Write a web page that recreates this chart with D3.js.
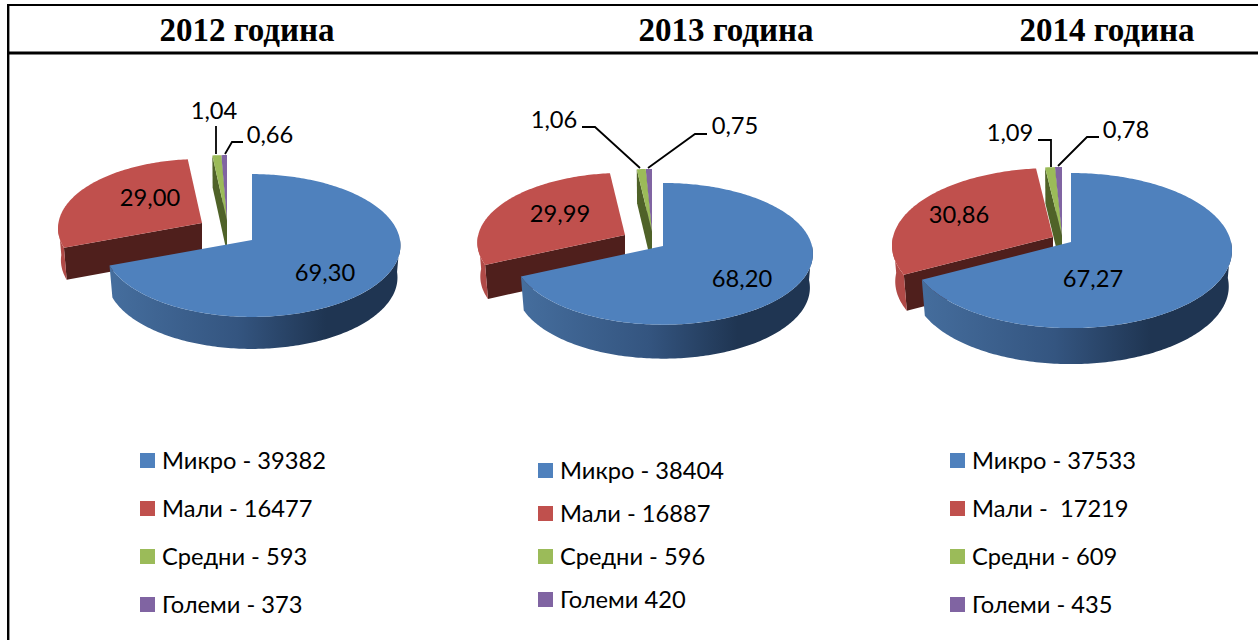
<!DOCTYPE html>
<html>
<head>
<meta charset="utf-8">
<script src="https://cdn.jsdelivr.net/npm/d3@7"></script>
<style>
  body { margin: 0; background: #fff; }
  text { fill: #000; }
  .title { font-family: "Liberation Serif", serif; font-weight: bold; font-size: 33px; }
  .lbl { font-family: Lato, "Noto Sans", sans-serif; font-size: 23.7px; }
</style>
</head>
<body>
<div id="chart"></div>
<script>
const years = ['2012 година', '2013 година', '2014 година']
const shares2012 = [69.30, 29.00, 1.04, 0.66]
const shares2013 = [68.20, 29.99, 1.06, 0.75]
const shares2014 = [67.27, 30.86, 1.09, 0.78]
const shareText2012 = ['69,30', '29,00', '1,04', '0,66']
const shareText2013 = ['68,20', '29,99', '1,06', '0,75']
const shareText2014 = ['67,27', '30,86', '1,09', '0,78']
const legend2012 = ['Микро - 39382', 'Мали - 16477', 'Средни - 593', 'Големи - 373']
const legend2013 = ['Микро - 38404', 'Мали - 16887', 'Средни - 596', 'Големи 420']
const legend2014 = ['Микро - 37533', 'Мали -  17219', 'Средни - 609', 'Големи - 435']

const topColors = ['#4f81bd', '#c0504d', '#9bbb59', '#8064a2']
const faceColors = ['#1f3552', '#4f1f1c', '#4f6228', '#40315a']
const wallColors = [null, '#b04a47', '#7f9a48', '#6a5288']

// layout of each pie: centre, radii, perspective, depth, then slice offsets, label spots
const layouts = [
  {
    titleX: 247, cx: 252, cy: 240, rx: 148, ry: 71, p: 0.077, depth: 32,
    offsets: [[0, 0], [-50, -17], [-25, -19], [-25, -19]],
    radius: [1, 0.97, 1, 1],
    labels: [[325, 273], [150, 198], [214, 111], [270, 135]],
    leaders: [null, null, [[216, 126], [216, 154]], [[243, 142], [232, 142], [225, 154]]],
    legendX: 140, legendY: [461, 509, 557, 605]
  },
  {
    titleX: 726, cx: 663, cy: 246, rx: 149, ry: 70, p: 0.11, depth: 34,
    offsets: [[0, 0], [-38, -11], [-11, -14], [-11, -14]],
    radius: [1, 0.985, 1, 1],
    labels: [[742, 279], [560, 214], [554, 120], [735, 126]],
    leaders: [null, null, [[582, 127], [595, 127], [640, 168]], [[707, 134], [695, 134], [648, 168]]],
    legendX: 538, legendY: [471, 514, 557, 600]
  },
  {
    titleX: 1107, cx: 1071, cy: 242, rx: 160, ry: 76.6, p: 0.11, depth: 36,
    offsets: [[0, 0], [-18, -5], [-9, -6], [-9, -6]],
    radius: [1, 1, 1, 1],
    labels: [[1093, 279], [959, 215], [1010, 133], [1126, 130]],
    leaders: [null, null, [[1038, 140], [1051, 140], [1051, 167]], [[1099, 137], [1087, 137], [1058, 166]]],
    legendX: 950, legendY: [461, 509, 557, 605]
  }
]

const width = 1258
const height = 640

const svg = d3.select('#chart').append('svg')
  .attr('width', width)
  .attr('height', height)
  .style('display', 'block')

// table lines
svg.append('g').attr('stroke', '#000')
  .selectAll('line')
  .data([[7, 5, width, 5, 2], [7, 53, width, 53, 3], [8.2, 4, 8.2, height, 2.4]])
  .join('line')
  .attr('x1', d => d[0]).attr('y1', d => d[1])
  .attr('x2', d => d[2]).attr('y2', d => d[3])
  .attr('stroke-width', d => d[4])

svg.selectAll('.title')
  .data(years)
  .join('text')
  .attr('class', 'title')
  .attr('text-anchor', 'middle')
  .attr('x', (d, i) => layouts[i].titleX)
  .attr('y', 41)
  .text(d => d)

const defs = svg.append('defs')
const pie = d3.pie().sort(null).value(d => d)
const line = d3.line()

function drawPie(values, shareText, legend, layout, idx) {
  const { cx, cy, rx, ry, p, depth } = layout

  const project = (a, dx, dy, k) => {
    const u = Math.sin(a) * k
    const v = Math.cos(a) * k
    const w = 1 + p * v
    return [cx + dx + rx * u / w, cy + dy - ry * v / w]
  }
  const sweep = (a0, a1, dx, dy, k) => {
    const n = Math.max(2, Math.ceil((a1 - a0) * 180 / Math.PI))
    return d3.range(n + 1).map(i => project(a0 + (a1 - a0) * i / n, dx, dy, k))
  }
  // lower rim sits a bit further away, so it pulls in towards the slice centre
  const down = (pts, midX) => pts.map(q => [midX + (q[0] - midX) * 0.98, q[1] + depth])

  const grad = defs.append('linearGradient')
    .attr('id', 'wall' + idx)
    .attr('gradientUnits', 'userSpaceOnUse')
    .attr('x1', cx - rx).attr('x2', cx + rx).attr('y1', 0).attr('y2', 0)
  grad.append('stop').attr('offset', 0).attr('stop-color', '#466f9f')
  grad.append('stop').attr('offset', 0.45).attr('stop-color', '#345580')
  grad.append('stop').attr('offset', 0.75).attr('stop-color', '#1f3552')
  grad.append('stop').attr('offset', 1).attr('stop-color', '#1f3552')

  const g = svg.append('g')
  const arcs = pie(values)

  // painter's order: red, purple, green, blue on top
  ;[1, 3, 2, 0].forEach(i => {
    const s = arcs[i]
    const [dx, dy] = layout.offsets[i]
    const k = layout.radius[i]
    const apex = project(0, dx, dy, 0)

    // cut face at the start edge, only faces the viewer on the left side
    if (i > 0) {
      const outer = project(s.startAngle, dx, dy, k)
      g.append('path')
        .attr('d', line([apex, outer].concat(down([outer, apex], apex[0]))) + 'Z')
        .attr('fill', faceColors[i])
    }

    // outer wall on the near half
    const a0 = Math.max(s.startAngle, Math.PI / 2)
    const a1 = Math.min(s.endAngle, Math.PI * 1.5)
    if (a1 > a0) {
      const pts = sweep(a0, a1, dx, dy, k)
      g.append('path')
        .attr('d', line(pts.concat(down(pts, apex[0]).reverse())) + 'Z')
        .attr('fill', i === 0 ? 'url(#wall' + idx + ')' : wallColors[i])
    }

    // top
    g.append('path')
      .attr('d', line([apex].concat(sweep(s.startAngle, s.endAngle, dx, dy, k))) + 'Z')
      .attr('fill', topColors[i])
  })

  // leader lines
  g.selectAll('.leader')
    .data(layout.leaders.filter(d => d))
    .join('path')
    .attr('class', 'leader')
    .attr('d', d => line(d))
    .attr('fill', 'none')
    .attr('stroke', '#000')
    .attr('stroke-width', 1.8)

  // share labels
  g.selectAll('.lbl')
    .data(shareText)
    .join('text')
    .attr('class', 'lbl')
    .attr('text-anchor', 'middle')
    .attr('dy', '0.35em')
    .attr('x', (d, i) => layout.labels[i][0])
    .attr('y', (d, i) => layout.labels[i][1])
    .text(d => d)

  // legend
  const rows = svg.append('g').selectAll('g')
    .data(legend)
    .join('g')
    .attr('transform', (d, i) => 'translate(' + layout.legendX + ',' + layout.legendY[i] + ')')
  rows.append('rect')
    .attr('y', -8).attr('width', 15).attr('height', 15)
    .attr('fill', (d, i) => topColors[i])
  rows.append('text')
    .attr('class', 'lbl')
    .attr('x', 22)
    .attr('dy', '0.35em')
    .attr('xml:space', 'preserve')
    .style('white-space', 'pre')
    .text(d => d)
}

drawPie(shares2012, shareText2012, legend2012, layouts[0], 0)
drawPie(shares2013, shareText2013, legend2013, layouts[1], 1)
drawPie(shares2014, shareText2014, legend2014, layouts[2], 2)
</script>
</body>
</html>
